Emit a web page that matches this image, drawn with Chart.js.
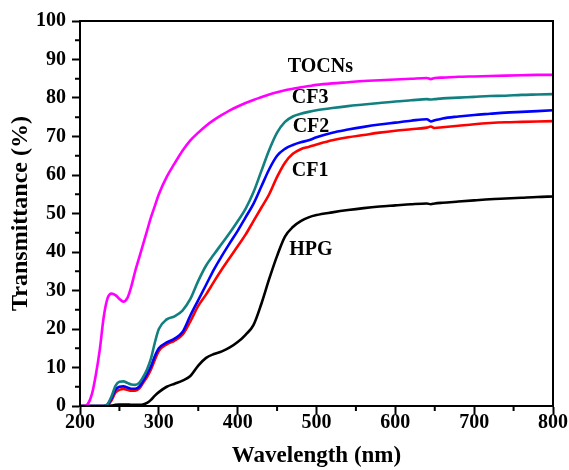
<!DOCTYPE html>
<html>
<head>
<meta charset="utf-8">
<script src="https://cdn.jsdelivr.net/npm/chart.js@4/dist/chart.umd.min.js"></script>
<style>
  html, body { margin: 0; padding: 0; background: #fff; }
  #wrap { width: 569px; height: 470px; }
</style>
</head>
<body>
<div id="wrap"><canvas id="c" width="569" height="470"></canvas></div>
<script>
// Wavelength grid (nm)
const wavelengths = [200,205,210,215,220,225,230,235,240,245,250,255,260,265,270,275,280,285,290,295,300,
  310,320,330,340,350,360,370,380,390,400,410,420,430,440,450,460,470,480,490,500,
  520,540,560,580,600,620,640,645,650,660,680,700,720,740,760,780,800];

const tocns = [0,0,0.5,3,8,14.5,23,28,29.2,28.8,27.8,27.1,28,31,35,38.5,42,45.5,49,52,55,
  59.5,63,66.3,69,71,72.8,74.3,75.6,76.8,77.8,78.7,79.5,80.2,80.9,81.5,82,82.4,82.8,83.1,83.4,
  83.8,84.1,84.4,84.6,84.8,85,85.2,84.9,85.2,85.3,85.5,85.6,85.7,85.8,85.9,86,86];

const cf3 = [0,0,0,0,0,0,0,0.5,2.5,5.2,6.3,6.4,6.0,5.6,5.5,6.0,7.5,9.5,12.3,16.5,20,
  22.5,23.3,24.8,27.8,32.5,36.5,39.4,42.2,45,48,51.2,55.5,61,66.5,71,73.8,75.2,75.9,76.4,76.8,
  77.4,77.9,78.3,78.7,79.1,79.4,79.7,79.6,79.7,79.9,80.1,80.3,80.5,80.6,80.8,80.9,81];

const cf2 = [0,0,0,0,0,0,0,0.3,2,4.2,5.0,5.1,4.8,4.5,4.5,5.0,6.5,8.3,10.3,13,15,
  16.5,17.5,19.2,23.5,27.5,31.5,35.5,39,42.3,45.5,49,52.5,57,61.5,65,66.8,67.8,68.5,69,69.8,
  71,71.8,72.5,73.1,73.6,74.1,74.5,73.9,74.2,74.7,75.2,75.6,75.9,76.2,76.4,76.6,76.8];

const cf1 = [0,0,0,0,0,0,0,0.2,1.5,3.5,4.2,4.4,4.2,4.0,4.0,4.5,6.0,7.5,9.5,12,14.3,
  16,17,18.5,22,26,29,32.3,35.5,38.5,41.5,44.5,48,51.5,55,59.5,63.2,65.5,66.7,67.3,67.9,
  69,69.8,70.4,71,71.5,71.9,72.3,72.6,72.2,72.4,72.8,73.2,73.5,73.7,73.8,73.9,74];

const hpg = [0,0,0,0,0,0,0,0,0.1,0.3,0.4,0.4,0.4,0.3,0.3,0.3,0.4,0.8,1.6,2.7,3.6,
  5.0,5.8,6.6,7.8,10.5,12.5,13.5,14.2,15.2,16.6,18.5,21,26.5,33,39,44,46.5,48,49,49.6,
  50.3,50.9,51.4,51.8,52.1,52.4,52.6,52.4,52.6,52.8,53.1,53.4,53.7,53.9,54.1,54.3,54.4];

const seriesNames = ['TOCNs','CF3','CF2','CF1','HPG'];
const seriesValues = [tocns, cf3, cf2, cf1, hpg];
const seriesColors = ['#ff00ff','#128080','#0000ff','#ff0000','#000000'];

const xTicks = [200,300,400,500,600,700,800];
const yTicks = [0,10,20,30,40,50,60,70,80,90,100];

// label anchors in data units [wavelength, transmittance]
const labelAnchors = [[505,88.2],[492,80],[493,72.5],[492,61],[493,40.5]];

const datasets = seriesNames.map((n, i) => ({
  label: n,
  data: wavelengths.map((w, j) => ({x: w, y: seriesValues[i][j]})),
  borderColor: seriesColors[i],
  backgroundColor: seriesColors[i],
  borderWidth: 2.6,
  pointRadius: 0,
  cubicInterpolationMode: 'monotone',
  fill: false
}));

const FONT = "'Liberation Serif', 'Times New Roman', serif";

const decor = {
  id: 'decor',
  afterDraw(chart) {
    const {ctx, chartArea: a, scales} = chart;
    ctx.save();
    ctx.strokeStyle = '#000';
    ctx.lineWidth = 2;
    ctx.strokeRect(a.left, a.top, a.right - a.left, a.bottom - a.top);
    // minor ticks
    ctx.lineWidth = 2;
    ctx.beginPath();
    for (let v = 250; v < 800; v += 100) {
      const p = scales.x.getPixelForValue(v);
      ctx.moveTo(p, a.bottom); ctx.lineTo(p, a.bottom + 5);
    }
    for (let v = 5; v < 100; v += 10) {
      const p = scales.y.getPixelForValue(v);
      ctx.moveTo(a.left, p); ctx.lineTo(a.left - 5, p);
    }
    ctx.stroke();
    // series labels
    ctx.fillStyle = '#000';
    ctx.font = "bold 20px " + FONT;
    ctx.textAlign = 'center';
    ctx.textBaseline = 'middle';
    seriesNames.forEach((n, i) => {
      const [wx, wy] = labelAnchors[i];
      ctx.fillText(n, scales.x.getPixelForValue(wx), scales.y.getPixelForValue(wy));
    });
    ctx.restore();
  }
};

new Chart(document.getElementById('c'), {
  type: 'line',
  data: { datasets },
  plugins: [decor],
  options: {
    responsive: false,
    animation: false,
    devicePixelRatio: 1,
    layout: { padding: { top: 21, right: 16, left: 0, bottom: 0 } },
    plugins: { legend: { display: false }, tooltip: { enabled: false } },
    scales: {
      x: {
        type: 'linear',
        min: 200, max: 800,
        afterBuildTicks(scale) { scale.ticks = xTicks.map(v => ({value: v})); },
        afterFit(scale) { scale.height = 64; },
        ticks: { color: '#000', padding: -3, maxRotation: 0, font: { family: FONT, size: 20, weight: 'bold' } },
        grid: { drawOnChartArea: false, drawTicks: true, tickLength: 8, tickWidth: 2, tickColor: '#000' },
        border: { display: true, color: '#000', width: 2 },
        title: { display: true, text: 'Wavelength (nm)', color: '#000', padding: { top: 0, bottom: 0 },
                 font: { family: FONT, size: 23, weight: 'bold' } }
      },
      y: {
        min: 0, max: 100,
        afterBuildTicks(scale) { scale.ticks = yTicks.map(v => ({value: v})); },
        afterFit(scale) { scale.width = 80; },
        ticks: { color: '#000', padding: 6, font: { family: FONT, size: 20, weight: 'bold' } },
        grid: { drawOnChartArea: false, drawTicks: true, tickLength: 8, tickWidth: 2, tickColor: '#000' },
        border: { display: true, color: '#000', width: 2 },
        title: { display: true, text: 'Transmittance (%)', color: '#000', padding: { top: 6, bottom: 0 },
                 font: { family: FONT, size: 24, weight: 'bold' } }
      }
    }
  }
});
</script>
</body>
</html>
